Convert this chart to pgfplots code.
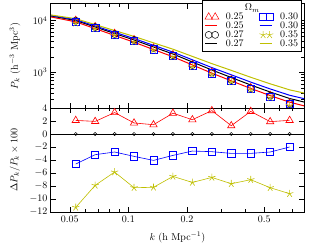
\documentclass[border=0pt]{standalone}
\usepackage{pgfplots}
\pgfplotsset{compat=1.18}
\definecolor{myred}{rgb}{1,0,0}
\definecolor{myblue}{rgb}{0,0,1}
\definecolor{myyel}{rgb}{0.75,0.75,0}
\pgfplotsset{
  mycommon/.style={
    scale only axis, width=253pt, height=104pt,
    xmin=0.04, xmax=0.8,
    xtick={0.05,0.1,0.2,0.5},
    minor xtick={0.06,0.07,0.08,0.09,0.3,0.4,0.6,0.7},
    tick align=inside,
    major tick length=5pt, minor tick length=3pt,
    axis line style={line width=1pt},
    every tick/.style={black, line width=0.6pt},
    every axis y label/.style={at={(axis description cs:-0.1423,0.5)}, anchor=center, rotate=90},
  },
  mleg/.style={legend image code/.code={\draw[only marks] plot coordinates {(0pt,0pt) (6.5pt,0pt)};}},
  lleg/.style={legend image code/.code={\draw (-3.5pt,0pt) -- (8.5pt,0pt);}},
}
\begin{document}
\begin{tikzpicture}
% ---------------- top panel ----------------
\begin{loglogaxis}[mycommon, at={(0,104pt)}, anchor=south west,
  ymin=205, ymax=21000, xticklabels={},
  ylabel={$P_k$ (h$^{-3}$ Mpc$^3$)},
  legend columns=2, legend cell align=left,
  legend style={at={(rel axis cs:1,1)}, anchor=north east, xshift=-2.3pt, yshift=4pt,
    draw=black, fill=white, inner sep=2.5pt, row sep=-1.2pt,
    nodes={inner sep=1pt},
    /tikz/every odd column/.append style={column sep=6pt},
    /tikz/every even column/.append style={column sep=14.5pt}},
]
\addlegendimage{empty legend}\addlegendentry{\makebox[0pt][l]{\hspace*{19pt}$\Omega_m$}}
\addlegendimage{empty legend}\addlegendentry{}
\addlegendimage{myred, mark=triangle, mark size=4.2pt, line width=0.5pt, mleg}\addlegendentry{0.25}
\addlegendimage{myblue, mark=square, mark size=3.6pt, line width=0.5pt, mleg}\addlegendentry{0.30}
\addlegendimage{myred, line width=1pt, lleg}\addlegendentry{0.25}
\addlegendimage{myblue, line width=1pt, lleg}\addlegendentry{0.30}
\addlegendimage{black, mark=o, mark size=3.5pt, line width=0.5pt, mleg}\addlegendentry{0.27}
\addlegendimage{myyel, mark=star, mark size=3.8pt, line width=0.5pt, mleg}\addlegendentry{0.35}
\addlegendimage{black, line width=1pt, lleg}\addlegendentry{0.27}
\addlegendimage{myyel, line width=1pt, lleg}\addlegendentry{0.35}
% theory lines
\addplot[myred, line width=1pt, forget plot] coordinates {
 (0.04,11790) (0.0536,9494) (0.06748,7015) (0.08495,5187) (0.10694,3833) (0.13463,2771)
 (0.16949,2006) (0.21337,1394) (0.26862,967.6) (0.33817,687.3) (0.42573,489.5)
 (0.53595,356.5) (0.67471,265.5) (0.8,225.9)};
\addplot[black, line width=1pt, forget plot] coordinates {
 (0.04,12330) (0.0536,10090) (0.06748,7552) (0.08495,5655) (0.10694,4233) (0.13463,3100)
 (0.16949,2270) (0.21337,1589) (0.26862,1113) (0.33817,797) (0.42573,570.6)
 (0.53595,417.8) (0.67471,312.8) (0.8,267.6)};
\addplot[myblue, line width=1pt, forget plot] coordinates {
 (0.04,12610) (0.0536,10450) (0.06748,7899) (0.08495,5970) (0.10694,4514) (0.13463,3337)
 (0.16949,2470) (0.21337,1750) (0.26862,1239) (0.33817,898) (0.42573,649)
 (0.53595,479) (0.67471,361.5) (0.8,311.3)};
\addplot[myyel, line width=1pt, forget plot] coordinates {
 (0.04,12890) (0.0536,10910) (0.06748,8387) (0.08495,6445) (0.10694,4958) (0.13463,3726)
 (0.16949,2810) (0.21337,2038) (0.26862,1478) (0.33817,1095) (0.42573,805)
 (0.53595,602) (0.67471,459.7) (0.8,399.5)};
% measured points
\addplot[myred, only marks, mark=triangle, mark size=4.2pt, line width=0.5pt, forget plot] coordinates {
 (0.0536,10209) (0.06748,7696) (0.08495,5712) (0.10694,4312) (0.13463,2967) (0.16949,2208)
 (0.21337,1421) (0.26862,1021) (0.33817,722) (0.42573,509) (0.53595,361) (0.67471,257)};
\addplot[black, only marks, mark=o, mark size=3.5pt, line width=0.5pt, forget plot] coordinates {
 (0.0536,10000) (0.06748,7550) (0.08495,5530) (0.10694,4240) (0.13463,2925) (0.16949,2140)
 (0.21337,1390) (0.26862,986) (0.33817,713) (0.42573,492) (0.53595,354) (0.67471,252)};
\addplot[myblue, only marks, mark=square, mark size=3.6pt, line width=0.5pt, forget plot] coordinates {
 (0.0536,9540) (0.06748,7308) (0.08495,5375) (0.10694,4096) (0.13463,2807) (0.16949,2069)
 (0.21337,1354) (0.26862,959) (0.33817,692) (0.42573,477) (0.53595,344) (0.67471,247)};
\addplot[myyel, only marks, mark=star, mark size=3.8pt, line width=0.5pt, forget plot] coordinates {
 (0.0536,8870) (0.06748,6954) (0.08495,5206) (0.10694,3890) (0.13463,2685) (0.16949,2001)
 (0.21337,1286) (0.26862,920) (0.33817,658) (0.42573,458) (0.53595,325) (0.67471,229)};
\end{loglogaxis}
% ---------------- bottom panel ----------------
\begin{semilogxaxis}[mycommon, at={(0,0)}, anchor=south west,
  ymin=-12, ymax=4, ytick={-12,-10,...,4},
  xticklabels={0.05,0.1,0.2,0.5},
  xlabel={$k$ (h Mpc$^{-1}$)},
  ylabel={$\Delta P_k/P_k\times 100$},
  every axis x label/.style={at={(axis description cs:0.5,-0.243)}, anchor=center},
]
\addplot[black, line width=0.8pt] coordinates {(0.04,0) (0.8,0)};
\addplot[black, only marks, mark=o, mark size=1.6pt, line width=0.5pt] coordinates {
 (0.0536,0) (0.06748,0) (0.08495,0) (0.10694,0) (0.13463,0) (0.16949,0)
 (0.21337,0) (0.26862,0) (0.33817,0) (0.42573,0) (0.53595,0) (0.67471,0)};
\addplot[myred, line width=0.6pt, mark=triangle, mark size=4.2pt] coordinates {
 (0.0536,2.09) (0.06748,1.94) (0.08495,3.3) (0.10694,1.7) (0.13463,1.43) (0.16949,3.2)
 (0.21337,2.2) (0.26862,3.6) (0.33817,1.28) (0.42573,3.48) (0.53595,1.9) (0.67471,2.1)};
\addplot[myblue, line width=0.6pt, mark=square, mark size=3.6pt] coordinates {
 (0.0536,-4.62) (0.06748,-3.18) (0.08495,-2.77) (0.10694,-3.44) (0.13463,-4.06) (0.16949,-3.29)
 (0.21337,-2.62) (0.26862,-2.72) (0.33817,-2.98) (0.42573,-2.98) (0.53595,-2.77) (0.67471,-2.0)};
\addplot[myyel, line width=0.6pt, mark=star, mark size=3.8pt] coordinates {
 (0.0536,-11.29) (0.06748,-7.9) (0.08495,-5.85) (0.10694,-8.26) (0.13463,-8.2) (0.16949,-6.52)
 (0.21337,-7.45) (0.26862,-6.68) (0.33817,-7.65) (0.42573,-7.03) (0.53595,-8.26) (0.67471,-9.18)};
\end{semilogxaxis}
\pgfresetboundingbox
\path[use as bounding box] (-51pt,-38pt) rectangle (269pt,212pt);
\end{tikzpicture}
\end{document}
